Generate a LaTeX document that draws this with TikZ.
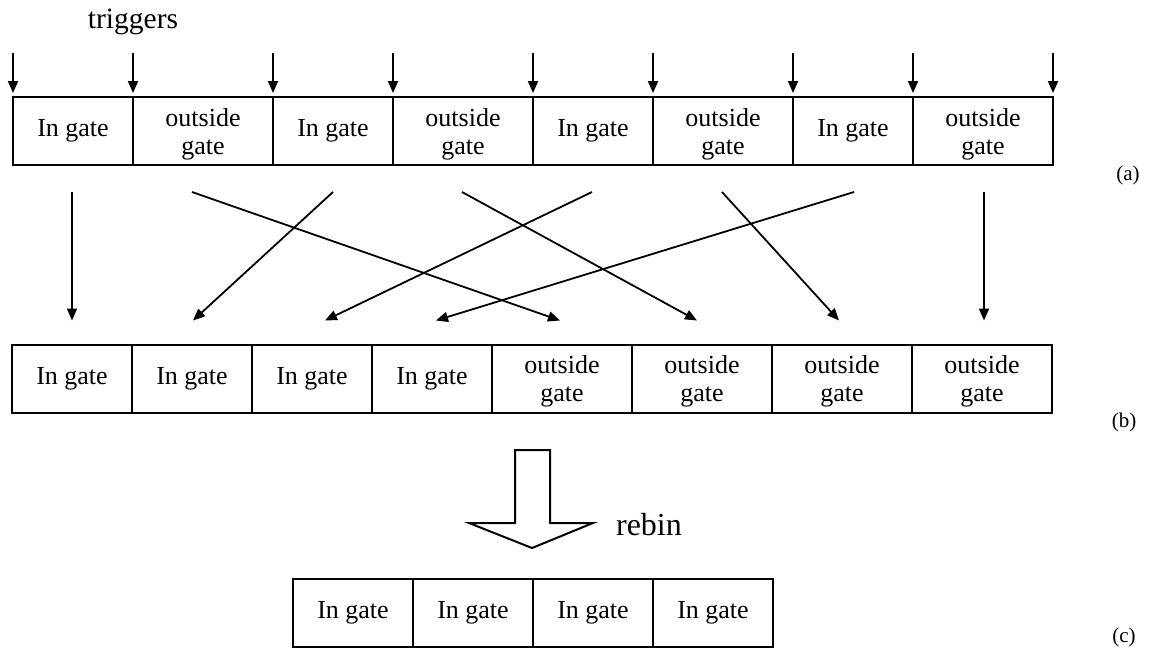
\documentclass[tikz,border=0pt]{standalone}
\usepackage{fontspec}
\setmainfont{Liberation Serif}
\usetikzlibrary{positioning, arrows.meta}

\tikzset{
  cell/.style={draw, line width=2pt, outer sep=0pt, inner sep=0pt, minimum height=68pt,
    align=center, font=\fontsize{26}{28}\selectfont},
  ingate/.style={cell, minimum width=120pt},
  outgate/.style={cell, minimum width=140pt, text depth=0pt},
  arr/.style={line width=1.8pt, -{Triangle[length=12pt, width=10pt]}},
  lbl/.style={font=\fontsize{21}{21}\selectfont},
}

\begin{document}
\begin{tikzpicture}[x=1pt, y=-1pt]
    \useasboundingbox (0,0) rectangle (1150,651);

    % Row (a): gates in the order they come in
    \foreach \i/\x in {1/73, 3/333, 5/593, 7/853} {
      \node[ingate] (a\i) at (\x,131) {In gate};
    }
    \foreach \i/\x in {2/203, 4/463, 6/723, 8/983} {
      \node[outgate] (a\i) at (\x,131) {outside\\gate};
    }
    \node[lbl] (la) at (1128,175) {(a)};

    % Trigger marks on every gate edge
    \node[font=\fontsize{29.5}{30}\selectfont, anchor=base] (trig) at (133,28) {triggers};
    \foreach \i in {1,...,8} {
      \draw[arr] ([yshift=44pt]a\i.north west) -- ([yshift=4pt]a\i.north west);
    }
    \draw[arr] ([yshift=44pt]a8.north east) -- ([yshift=4pt]a8.north east);

    % Row (b): sorted, in gate first
    \foreach \i/\x in {1/72, 2/192, 3/312, 4/432} {
      \node[ingate] (b\i) at (\x,378.5) {In gate};
    }
    \foreach \i/\x in {5/562, 6/702, 7/842, 8/982} {
      \node[outgate] (b\i) at (\x,378.5) {outside\\gate};
    }
    \node[lbl] (lb) at (1124,422) {(b)};

    % Reordering arrows a -> b
    \foreach \s/\t/\ds/\dt in {1/1/-1/0, 2/5/-11/-2, 3/2/0/1, 4/6/-1/-5,
                               5/3/-1/13, 6/7/-1/-3, 7/4/1/4, 8/8/1/2} {
      \draw[arr] ([xshift=\ds, yshift=-27pt]a\s.south) -- ([xshift=\dt, yshift=24pt]b\t.north);
    }

    % Rebin arrow
    \draw[line width=2pt, line join=miter] (515,450) -- (550,450) -- (550,523) -- (593,523)
      -- (532,548) -- (469,523) -- (515,523) -- cycle;
    \node[font=\fontsize{32}{32}\selectfont, anchor=base] (rebin) at (649,535) {rebin};

    % Row (c): in gate bins only
    \foreach \i/\x in {1/353, 2/473, 3/593, 4/713} {
      \node[ingate] (c\i) at (\x,612.5) {In gate};
    }
    \node[lbl] (lc) at (1124,637) {(c)};
\end{tikzpicture}
\end{document}
